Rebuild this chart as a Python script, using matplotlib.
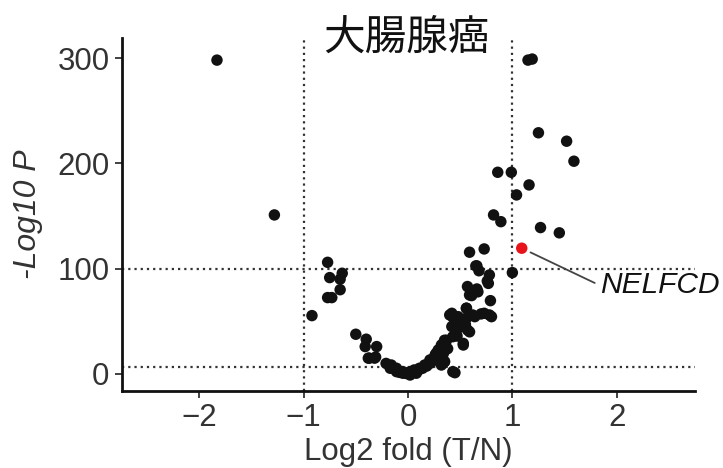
import matplotlib
matplotlib.use("Agg")
import matplotlib.pyplot as plt

plt.rcParams['font.family'] = ['Liberation Sans', 'Noto Sans CJK JP', 'DejaVu Sans']

title = "大腸腺癌"
x_label = "Log2 fold (T/N)"
y_label = "-Log10 P"
x_ticks = [-2, -1, 0, 1, 2]
y_ticks = [0, 100, 200, 300]
fc_threshold = [-1, 1]
p_thresholds = [7, 100]

log2fc = [
    -1.83, -1.28, 1.15, 1.19, 1.25, 1.52, 1.59, 0.86, 0.99, 1.16, 1.04, 0.82, 0.89,
    1.27, 1.45, 0.59, 0.73, 0.66, 0.68, 1.00, 0.78, 0.76, 0.77, 0.57, 0.66, 0.61,
    0.79, 0.56, -0.77, -0.75, -0.63, -0.65, -0.65, -0.77, -0.73, -0.92, -0.50,
    -0.40, -0.41, -0.30, -0.37, -0.31, -0.21, -0.17, -0.11, -0.05, 0.02, 0.08,
    0.14, 0.21, 0.27, 0.32, 0.37, 0.42, 0.43, 0.40, 0.43, 0.32, 0.35, 0.59, 0.67,
    0.56, 0.42, 0.48, 0.62, 0.70, 0.78, 0.45, 0.51, 0.57, 0.46, 0.43, 0.53, 0.35,
    0.32, 0.29, 0.26, 0.34, 0.21, 0.30, 0.35, 0.16, 0.11, 0.06, 0.02, -0.05,
    -0.11, -0.16, 0.65, 0.62, 0.80, 0.73, 0.64, 0.56, 0.50, 0.59, 0.53, 0.45,
    -0.38, -0.32, -0.08, -0.02, 0.04, 0.10, 0.18, 0.24, 0.38, 0.47, 0.55,
]
neglog10p = [
    298, 151, 298, 299, 229, 221, 202, 191.5, 191.5, 179.5, 170, 151, 144.6,
    139, 134, 115.6, 118.7, 102.6, 98, 96.2, 94, 88.3, 86, 83, 80.7, 74.4,
    69.6, 62.4, 106, 91.5, 95.6, 90, 80, 72.5, 72.5, 55.4, 37.7,
    33, 26, 26, 15, 16, 10, 5.4, 2.2, 0.7, -1, 0.7,
    5.4, 10, 19.6, 26, 32, 45, 54, 56, 2.2, 8.5, 11.7, 75, 78,
    62.4, 57.6, 54.4, 56, 57, 56, 48, 45, 41.8, 38.6, 35.4, 29, 32,
    27.5, 22.8, 18, 19.6, 13.3, 11.7, 11.7, 8.5, 5.4, 3.8, 2.2, 2.2,
    5.4, 8.5, 102.6, 76.6, 54.4, 57.6, 54.4, 53, 50, 40, 27.5, 1.2,
    15, 15, 1.5, 0.5, 1.5, 3.5, 7.5, 14, 24, 36, 47,
]
highlight_gene = "NELFCD"
highlight_x = [1.09]
highlight_y = [119.4]
label_pos = (1.84, 84)

fig = plt.figure(figsize=(7.23, 4.68), dpi=100)
ax = fig.add_axes([122/723, 1-390.7/468, (695-122)/723, (390.7-38)/468])

ax.set_xlim(-2.74, 2.75)
ax.set_ylim(-15.9, 319)

for xv in fc_threshold:
    ax.axvline(xv, color='#333333', linestyle=(0, (1, 1.8)), linewidth=1.6, zorder=1)
for yv in p_thresholds:
    ax.axhline(yv, color='#333333', linestyle=(0, (1, 1.8)), linewidth=1.6, zorder=1)

ax.scatter(log2fc, neglog10p, s=68, color='#111111', edgecolors='none', zorder=3)
ax.scatter(highlight_x, highlight_y, s=68, color='#e8141c', edgecolors='none', zorder=4)

ax.annotate(highlight_gene, xy=(highlight_x[0], highlight_y[0]), xytext=label_pos,
            fontsize=21.5, style='italic', color='#111111', va='center', ha='left',
            arrowprops=dict(arrowstyle='-', color='#444444', lw=1.3,
                            shrinkA=2, shrinkB=7, relpos=(0, 0.5)),
            annotation_clip=False, zorder=5)

for s in ['top', 'right']:
    ax.spines[s].set_visible(False)
for s in ['left', 'bottom']:
    ax.spines[s].set_linewidth(2)
    ax.spines[s].set_color('#111111')

ax.set_xticks(x_ticks)
ax.set_xticklabels([str(t).replace('-', '\u2212') for t in x_ticks])
ax.set_yticks(y_ticks)
ax.tick_params(axis='both', labelsize=22.5, labelcolor='#333333', color='#333333',
               length=5, width=1.3, pad=4)

ax.set_xlabel(x_label, fontsize=22.5, color='#333333', labelpad=3)
ax.set_ylabel(y_label, fontsize=23, color='#333333', style='italic', labelpad=10)

fig.text(406/723, 1-38/468, title, fontsize=30, ha='center', va='center',
         color='#111111', family=['Noto Sans CJK JP', 'DejaVu Sans'])

fig.savefig('out.png', dpi=100)
